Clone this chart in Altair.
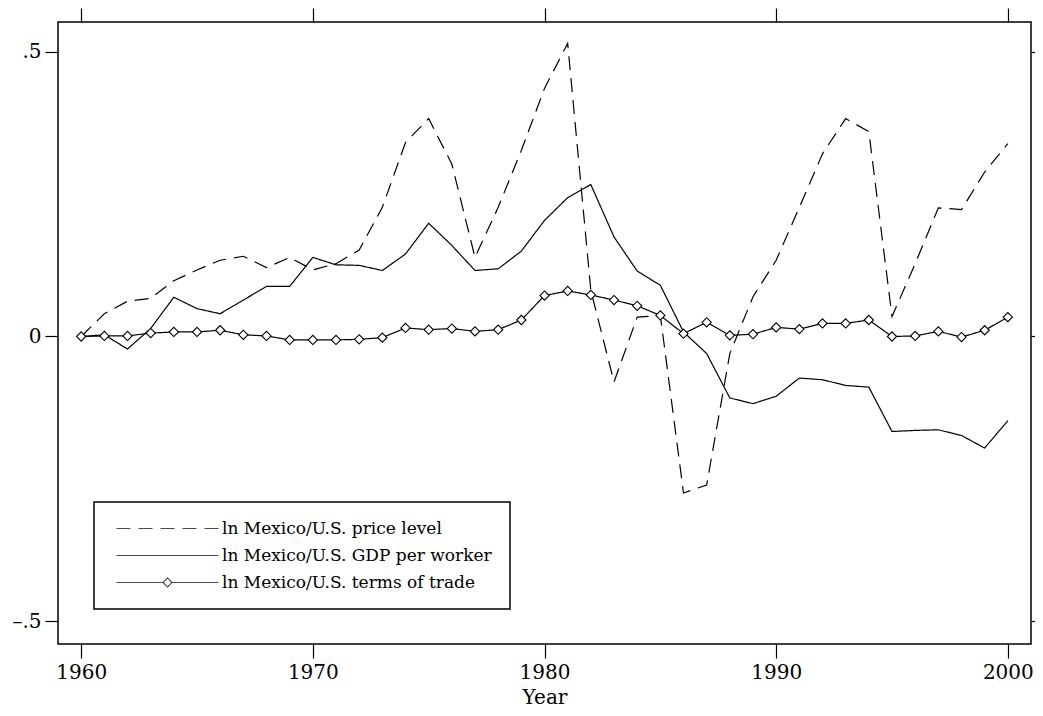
import altair as alt
import pandas as pd

years = list(range(1960, 2001))
price_level = [0.000, 0.040, 0.062, 0.067, 0.098, 0.117, 0.134, 0.141, 0.121, 0.139,
               0.117, 0.128, 0.152, 0.227, 0.341, 0.383, 0.303, 0.139, 0.227, 0.327,
               0.436, 0.515, 0.081, -0.080, 0.034, 0.037, -0.275, -0.261, -0.030, 0.070,
               0.134, 0.227, 0.321, 0.383, 0.360, 0.035, 0.128, 0.226, 0.223, 0.289, 0.339]
gdp_per_worker = [0.000, 0.003, -0.022, 0.014, 0.069, 0.049, 0.040, 0.064, 0.088, 0.088,
                  0.139, 0.126, 0.125, 0.116, 0.145, 0.199, 0.160, 0.116, 0.119, 0.150,
                  0.204, 0.244, 0.267, 0.175, 0.115, 0.090, 0.008, -0.030, -0.108, -0.118,
                  -0.105, -0.073, -0.076, -0.086, -0.089, -0.167, -0.165, -0.164, -0.174, -0.196, -0.148]
terms_of_trade = [0.000, 0.001, 0.001, 0.006, 0.008, 0.008, 0.011, 0.003, 0.001, -0.006,
                  -0.006, -0.006, -0.005, -0.002, 0.015, 0.012, 0.014, 0.009, 0.012, 0.029,
                  0.072, 0.080, 0.073, 0.064, 0.054, 0.037, 0.005, 0.025, 0.002, 0.004,
                  0.016, 0.013, 0.023, 0.023, 0.029, 0.000, 0.001, 0.009, -0.001, 0.011, 0.034]

series_names = ["ln Mexico/U.S. price level",
                "ln Mexico/U.S. GDP per worker",
                "ln Mexico/U.S. terms of trade"]
x_ticks = [1960, 1970, 1980, 1990, 2000]
y_ticks = [-0.5, 0, 0.5]

rows = []
for name, vals in zip(series_names, [price_level, gdp_per_worker, terms_of_trade]):
    for yr, v in zip(years, vals):
        rows.append({"year": yr, "value": v, "series": name})
df = pd.DataFrame(rows)

FONT = "DejaVu Serif"
x_dom = [1959, 2001]
y_dom = [-0.5404, 0.5527]

dash_scale = alt.Scale(domain=series_names, range=[[14, 8], [1, 0], [1, 0]])
shape_scale = alt.Scale(
    domain=series_names,
    range=["M-0.8,0H19.6",
           "M-0.8,0H19.6",
           "M-0.8,0H8.5 M8.5,0L9.4,-0.9L10.3,0L9.4,0.9Z M10.3,0H19.6"])

legend = alt.Legend(title=None, orient="none", legendX=36, legendY=480,
                    padding=18, rowPadding=9, labelFont=FONT, labelFontSize=17,
                    labelColor="black", labelOffset=93, symbolSize=100,
                    symbolStrokeWidth=1.2, symbolStrokeColor="black",
                    symbolFillColor="white", strokeColor="black", fillColor="white",
                    labelLimit=400)

x_bottom = alt.X("year:Q", scale=alt.Scale(domain=x_dom, nice=False, zero=False),
                 axis=alt.Axis(orient="bottom", values=x_ticks, format="d", title="Year",
                               tickSize=14, labelBaseline="alphabetic", labelPadding=20,
                               titleBaseline="alphabetic", titleY=59))
y_left = alt.Y("value:Q", scale=alt.Scale(domain=y_dom, nice=False, zero=False),
               axis=alt.Axis(orient="left", values=y_ticks, title=None, tickSize=13,
                             labelPadding=4,
                             labelExpr="datum.value == 0 ? '0' : (datum.value > 0 ? '.5' : '\u2013.5')"))

lines = alt.Chart(df).mark_line(color="black", strokeWidth=1.2).encode(
    x=x_bottom,
    y=y_left,
    strokeDash=alt.StrokeDash("series:N", scale=dash_scale, legend=legend),
    detail="series:N",
)

points = alt.Chart(df).transform_filter(
    alt.datum.series == series_names[2]
).mark_point(shape="diamond", size=85, filled=True, fill="white", stroke="black",
             strokeWidth=1.1, opacity=1).encode(
    x=alt.X("year:Q", scale=alt.Scale(domain=x_dom, nice=False, zero=False),
            axis=alt.Axis(orient="top", values=x_ticks, labels=False, title=None, tickSize=14)),
    y=alt.Y("value:Q", scale=alt.Scale(domain=y_dom, nice=False, zero=False),
            axis=alt.Axis(orient="right", values=y_ticks, labels=False, title=None, tickSize=12)),
)

legend_helper = alt.Chart(df).transform_filter(
    alt.datum.year < 0
).mark_point(filled=False, color="black").encode(
    x=alt.X("year:Q", axis=None),
    y=alt.Y("value:Q", axis=None),
    shape=alt.Shape("series:N", scale=shape_scale, legend=legend),
    strokeDash=alt.StrokeDash("series:N", scale=dash_scale, legend=legend),
)

chart = alt.layer(lines, points, legend_helper).resolve_axis(
    x="independent", y="independent"
).properties(
    width=973, height=622,
    autosize=alt.AutoSizeParams(type="none"),
    padding={"left": 50, "top": 14, "right": 4, "bottom": 64},
).configure_view(
    stroke="black", strokeWidth=1.5
).configure_axis(
    domain=False, grid=False, tickColor="black", tickWidth=1.2,
    labelFont=FONT, labelFontSize=20, labelColor="black",
    titleFont=FONT, titleFontSize=20, titleColor="black", titleFontWeight="normal",
).configure_legend(
    strokeWidth=1.5
)

chart.save("out.html", embed_options={"renderer": "svg", "actions": False})
